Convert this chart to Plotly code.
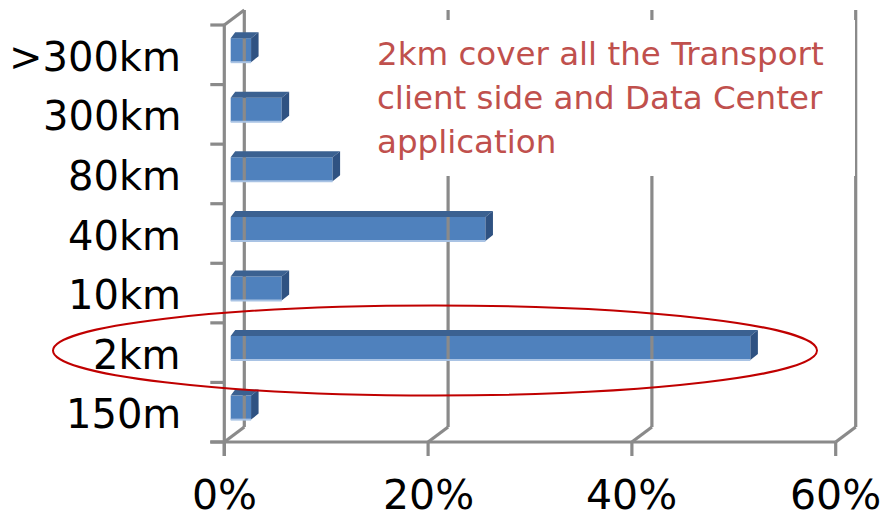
import plotly.graph_objects as go

# Reach distribution of optical links
categories = ["150m", "2km", "10km", "40km", "80km", "300km", ">300km"]
shares = [2, 51, 5, 25, 10, 5, 2]          # percent of links
pct_ticks = [0, 20, 40, 60]
pct_labels = ["0%", "20%", "40%", "60%"]
note_lines = [
    "2km cover all the Transport",
    "client side and Data Center",
    "application",
]

W, H = 883, 522

# Pixel geometry of the front plane of the pseudo-3D box
ORIGIN_X, ORIGIN_Y = 224.3, 442.0
PX_PER_PCT = 10.19
PX_PER_CAT = 59.57


def ux(px):
    return px / PX_PER_PCT


def uy(px):
    return px / PX_PER_CAT


def px_to_x(px):
    return (px - ORIGIN_X) / PX_PER_PCT


def px_to_y(py):
    return (ORIGIN_Y - py) / PX_PER_CAT


n = len(categories)
x_max = pct_ticks[-1]

# Oblique projection offsets
WALL_DX, WALL_DY = ux(20), uy(15)       # back wall relative to front plane
BAR_DX, BAR_DY = ux(6.4), uy(4.6)       # bar front face relative to front plane
DEPTH_DX, DEPTH_DY = ux(7.5), uy(6)     # bar thickness in depth
BAR_H = uy(24)
TICK_X, TICK_Y = ux(14), uy(14)

GRID = "#8A8A8A"
FRONT = "#4F81BD"
TOP = "#3B6191"
SIDE = "#2F5282"
EDGE = "#A9C3E4"
NOTE = "#C0504D"

fig = go.Figure()

# ---- walls, floor, axes and ticks ----
gx, gy = [], []


def seg(x0, y0, x1, y1):
    gx.extend([x0, x1, None])
    gy.extend([y0, y1, None])


for v in pct_ticks:
    seg(v, 0, v + WALL_DX, WALL_DY)                    # floor line
    seg(v + WALL_DX, WALL_DY, v + WALL_DX, n + WALL_DY)  # back wall gridline
    seg(v, 0, v, -TICK_Y)                              # tick mark
seg(0, n, WALL_DX, n + WALL_DY)                        # side wall top edge
seg(0, -TICK_Y, 0, n)                                  # category axis
seg(-TICK_X, 0, x_max, 0)                              # value axis
for i in range(n + 1):
    seg(-TICK_X, i, 0, i)

fig.add_trace(go.Scatter(x=gx, y=gy, mode="lines",
                         line=dict(color=GRID, width=3.2),
                         hoverinfo="skip", showlegend=False))

# ---- bars: front face ----
yc = [i + 0.5 + BAR_DY for i in range(n)]
fig.add_trace(go.Bar(orientation="h", y=yc, x=shares, base=BAR_DX,
                     width=BAR_H, marker=dict(color=FRONT, line=dict(width=0)),
                     showlegend=False, hoverinfo="skip"))

# ---- bars: top and right faces, bottom highlight ----
tx, ty, sx, sy, ex, ey = [], [], [], [], [], []
for y, v in zip(yc, shares):
    yt, yb = y + BAR_H / 2, y - BAR_H / 2
    x0, x1 = BAR_DX, BAR_DX + v
    tx += [x0, x1, x1 + DEPTH_DX, x0 + DEPTH_DX * 0.6, x0, None]
    ty += [yt, yt, yt + DEPTH_DY, yt + DEPTH_DY, yt, None]
    sx += [x1, x1, x1 + DEPTH_DX, x1 + DEPTH_DX, x1, None]
    sy += [yb, yt, yt + DEPTH_DY, yb + DEPTH_DY, yb, None]
    ex += [x0, x1, None]
    ey += [yb, yb, None]

fig.add_trace(go.Scatter(x=tx, y=ty, mode="lines", fill="toself",
                         fillcolor=TOP, line=dict(width=0, color=TOP),
                         hoverinfo="skip", showlegend=False))
fig.add_trace(go.Scatter(x=sx, y=sy, mode="lines", fill="toself",
                         fillcolor=SIDE, line=dict(width=0, color=SIDE),
                         hoverinfo="skip", showlegend=False))
fig.add_trace(go.Scatter(x=ex, y=ey, mode="lines",
                         line=dict(width=2, color=EDGE),
                         hoverinfo="skip", showlegend=False))

# ---- note box (white background hides the gridlines behind it) ----
fig.add_shape(type="rect", layer="above",
              x0=px_to_x(365), x1=px_to_x(855),
              y0=px_to_y(176), y1=px_to_y(20),
              line=dict(width=0), fillcolor="white")

for k, line in enumerate(note_lines):
    fig.add_annotation(x=px_to_x(375), y=px_to_y(54 + 44 * k),
                       text=line, showarrow=False,
                       xanchor="left", yanchor="middle",
                       font=dict(family="DejaVu Sans", size=32.5, color=NOTE))

# ---- highlight ellipse around the 2km category ----
fig.add_shape(type="circle", layer="above",
              x0=px_to_x(53), x1=px_to_x(817),
              y0=px_to_y(395.5), y1=px_to_y(305.5),
              line=dict(color="#C00000", width=2))

# ---- axis labels ----
for i, cat in enumerate(categories):
    fig.add_annotation(x=px_to_x(183), y=i + 0.5 - uy(2), text=cat,
                       showarrow=False, xanchor="right", yanchor="middle",
                       font=dict(family="DejaVu Sans", size=40, color="black"))
for v, lab in zip(pct_ticks, pct_labels):
    fig.add_annotation(x=v, y=px_to_y(495), text=lab, borderpad=0,
                       showarrow=False, xanchor="center", yanchor="middle",
                       font=dict(family="DejaVu Sans", size=41, color="black"))

fig.update_layout(
    width=W, height=H,
    margin=dict(l=0, r=0, t=0, b=0),
    paper_bgcolor="white", plot_bgcolor="white",
    showlegend=False,
    xaxis=dict(range=[px_to_x(0), px_to_x(W)], visible=False, fixedrange=True),
    yaxis=dict(range=[px_to_y(H), px_to_y(0)], visible=False, fixedrange=True),
)

fig.write_html("out.html", config={"displayModeBar": False})
